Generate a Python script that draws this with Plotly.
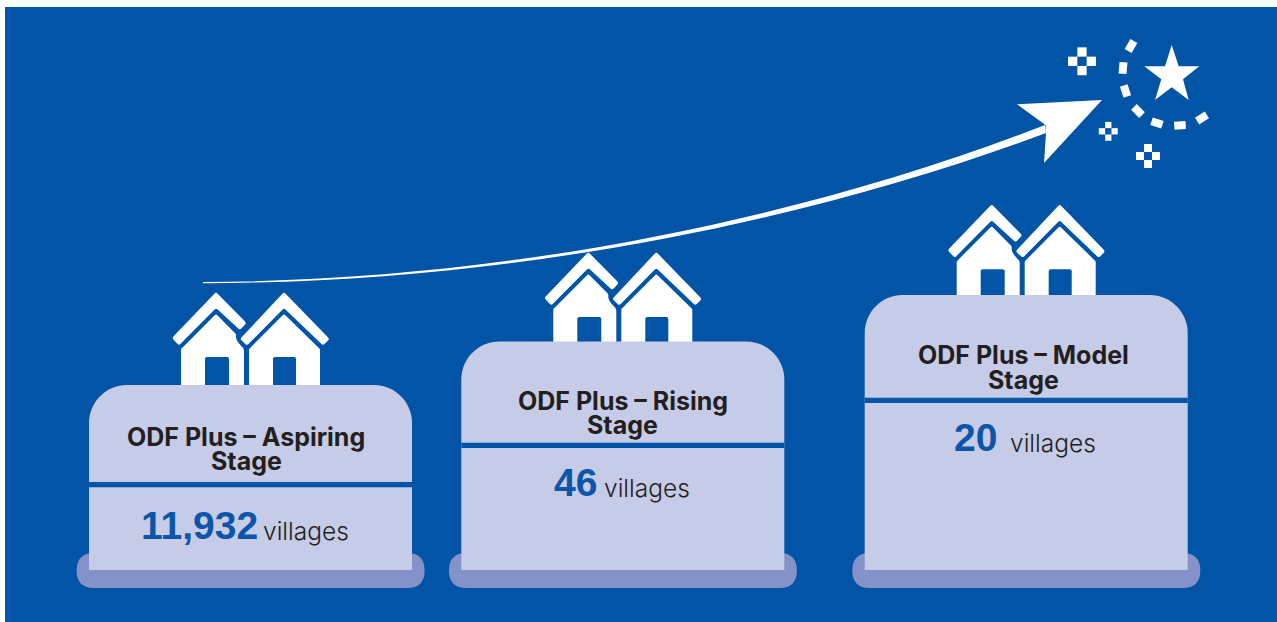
import math
import plotly.graph_objects as go

# Programme stages and the number of villages in each
stage_first_lines = ["ODF Plus – Aspiring", "ODF Plus – Rising", "ODF Plus – Model"]
stage_second_lines = ["Stage", "Stage", "Stage"]
village_counts = [11932, 46, 20]
unit_label = "villages"

# Placement of each pedestal card, in canvas pixels
card_lefts = [89, 461.3, 864.7]
card_tops = [385, 341.5, 295]
rule_tops = [482, 442.8, 397.8]
house_shifts = [(0, 0), (372.3, -40), (775.7, -87.7)]
heading_centres = [246, 622.7, 1023.8]
heading_mids = [(437, 461), (401.7, 425.3), (355.5, 380)]
count_centres = [199.3, 575.8, 975.2]
unit_left = [263, 604, 1010]
baselines = [540, 497, 452]

BLUE = "#0254A6"
CARD = "#C6CBE7"
BASE = "#8592C9"
INK = "#231F20"
NUMBER = "#0B56A8"
WHITE = "#FFFFFF"
FONT = "Inter"
COUNT_FONT = "Liberation Sans"

CARD_W = 323
CARD_BOTTOM = 570

shapes = []


def add_path(path, fill):
    shapes.append(dict(type="path", path=path, xref="x", yref="y",
                       fillcolor=fill, line=dict(width=0), layer="above"))


def rounded_poly(points, radius):
    """Closed polygon path whose corners are softened with quadratic curves."""
    n = len(points)
    parts = []
    for i, (x, y) in enumerate(points):
        px, py = points[i - 1]
        nx, ny = points[(i + 1) % n]
        r = radius[i] if isinstance(radius, (list, tuple)) else radius
        d1 = math.hypot(px - x, py - y) or 1
        d2 = math.hypot(nx - x, ny - y) or 1
        ax, ay = x + (px - x) * min(r, d1 / 2) / d1, y + (py - y) * min(r, d1 / 2) / d1
        bx, by = x + (nx - x) * min(r, d2 / 2) / d2, y + (ny - y) * min(r, d2 / 2) / d2
        parts.append(f"{'M' if i == 0 else 'L'} {ax:.2f} {ay:.2f} Q {x:.2f} {y:.2f} {bx:.2f} {by:.2f}")
    return " ".join(parts) + " Z"


def add_houses(dx, dy):
    """Pair of houses standing behind a card, shifted from the first card's spot."""

    def pts(seq):
        return [(x + dx, y + dy) for x, y in seq]

    # left house body, door drawn afterwards
    add_path(rounded_poly(pts([(181, 349), (216, 314), (236, 334), (236, 340), (244, 349),
                               (244, 392), (181, 392)]),
                          [0.5, 1.5, 0.5, 4, 2, 0, 0]), WHITE)
    add_path(rounded_poly(pts([(205, 357), (229, 357), (229, 392), (205, 392)]),
                          [2, 2, 0, 0]), BLUE)
    # left roof
    add_path(rounded_poly(pts([(216, 292), (246.5, 323), (240, 330), (216, 308),
                               (179, 345.5), (172, 338)]), [2, 2, 2, 2, 2, 2]), WHITE)
    # right house body and door
    add_path(rounded_poly(pts([(249, 349), (284, 314), (320, 349), (320, 392), (249, 392)]),
                          [0.5, 1.5, 0.5, 0, 0]), WHITE)
    add_path(rounded_poly(pts([(273, 357), (296, 357), (296, 392), (273, 392)]),
                          [2, 2, 0, 0]), BLUE)
    # right roof
    add_path(rounded_poly(pts([(284, 292), (329.5, 339), (323, 345.5), (284, 308),
                               (247, 345.5), (240, 339)]), [2, 2, 2, 2, 2, 2]), WHITE)


def add_card(left, top, rule_y):
    x0, x1 = left, left + CARD_W
    # darker foot under the card
    add_path(rounded_poly([(x0 - 12.4, 553), (x1 + 12.6, 553), (x1 + 12.6, 588), (x0 - 12.4, 588)], 17.5), BASE)
    r, k = 38, 17
    add_path(f"M {x0} {CARD_BOTTOM} L {x0} {top + r} C {x0} {top + k} {x0 + k} {top} {x0 + r} {top} "
             f"L {x1 - r} {top} C {x1 - k} {top} {x1} {top + k} {x1} {top + r} L {x1} {CARD_BOTTOM} Z", CARD)
    # divider between heading and count
    add_path(f"M {x0} {rule_y} L {x1} {rule_y} L {x1} {rule_y + 5.2} L {x0} {rule_y + 5.2} Z", BLUE)


def add_sparkle(cx, cy, c):
    """Four square pixels arranged around an empty centre."""
    for ox, oy in [(0, -1), (-1, 0), (1, 0), (0, 1)]:
        x, y = cx + ox * c, cy + oy * c
        add_path(f"M {x - c / 2:.2f} {y - c / 2:.2f} L {x + c / 2:.2f} {y - c / 2:.2f} "
                 f"L {x + c / 2:.2f} {y + c / 2:.2f} L {x - c / 2:.2f} {y + c / 2:.2f} Z", WHITE)


def add_dash(cx, cy, angle, length=11.5, width=8):
    a = math.radians(angle)
    ux, uy = math.cos(a) * length / 2, math.sin(a) * length / 2
    vx, vy = -math.sin(a) * width / 2, math.cos(a) * width / 2
    corners = [(cx - ux - vx, cy - uy - vy), (cx + ux - vx, cy + uy - vy),
               (cx + ux + vx, cy + uy + vy), (cx - ux + vx, cy - uy + vy)]
    add_path("M " + " L ".join(f"{x:.2f} {y:.2f}" for x, y in corners) + " Z", WHITE)


# page panel
add_path("M 5 7 L 1277 7 L 1277 622 L 5 622 Z", BLUE)

for i, left in enumerate(card_lefts):
    add_houses(*house_shifts[i])
    add_card(left, card_tops[i], rule_tops[i])

# rising arrow: tapered shaft, then head
add_path("M 203 282 C 520 281 820 212.5 1045 125 L 1046 133 C 820 217.5 520 283 203 283.2 Z", WHITE)
add_path("M 1102 100 L 1017 104.3 L 1045.5 125 L 1046 133 L 1044 163 Z", WHITE)

# star and the broken ring around it
star = [(1171.7, 45), (1178.7, 66.3), (1199.3, 66.3), (1183, 79.3), (1188.7, 100),
        (1171.7, 87.3), (1155, 100), (1161.3, 79.3), (1144.3, 66.3), (1165, 66.3)]
add_path("M " + " L ".join(f"{x} {y}" for x, y in star) + " Z", WHITE)
for cx, cy, ang in [(1131, 46, -60), (1123, 68, -85), (1125.5, 91, 72), (1138, 111, 45),
                    (1157, 123, 18), (1180, 125.3, -4), (1202, 118, -32)]:
    add_dash(cx, cy, ang)

add_sparkle(1082, 61.3, 9.3)
add_sparkle(1108.3, 131.3, 6.3)
add_sparkle(1148, 156, 8)

annotations = []


def add_text(x, y, text, size, color, weight, anchor="center", family=FONT):
    annotations.append(dict(x=x, y=y, xref="x", yref="y", text=text, showarrow=False,
                            xanchor=anchor, yanchor="middle", borderpad=0, borderwidth=0,
                            font=dict(family=family, size=size, color=color, weight=weight)))


for i, centre in enumerate(heading_centres):
    add_text(centre, heading_mids[i][0] - 0.5, stage_first_lines[i], 25, INK, 700)
    add_text(centre, heading_mids[i][1] - 0.5, stage_second_lines[i], 25, INK, 700)

for i, count in enumerate(village_counts):
    add_text(count_centres[i], baselines[i] - 15, f"{count:,}", 39, NUMBER, 700, "center", COUNT_FONT)
    add_text(unit_left[i], baselines[i] - 9, unit_label, 24.5, INK, 300, "left")

fig = go.Figure()
fig.update_layout(
    width=1277, height=622, autosize=False,
    margin=dict(l=0, r=0, t=0, b=0),
    paper_bgcolor=WHITE, plot_bgcolor=WHITE,
    xaxis=dict(range=[0, 1277], visible=False, fixedrange=True),
    yaxis=dict(range=[622, 0], visible=False, fixedrange=True),
    shapes=shapes, annotations=annotations, showlegend=False,
)
fig.write_html("out.html", config=dict(displayModeBar=False))
